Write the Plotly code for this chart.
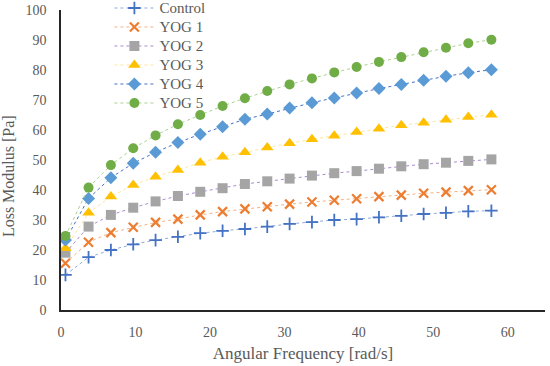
import plotly.graph_objects as go

freq = [0.6, 3.7, 6.7, 9.7, 12.7, 15.7, 18.7, 21.7, 24.7, 27.7,
        30.7, 33.7, 36.7, 39.7, 42.7, 45.7, 48.7, 51.7, 54.7, 57.8]

control = [11.7, 17.6, 20.0, 21.9, 23.3, 24.4, 25.6, 26.4, 27.0, 27.8,
           28.7, 29.3, 30.0, 30.3, 30.9, 31.4, 32.0, 32.4, 32.9, 33.1]
yog1 = [15.6, 22.6, 25.8, 27.6, 29.2, 30.3, 31.7, 32.8, 33.7, 34.4,
        35.3, 36.0, 36.6, 37.1, 37.8, 38.3, 38.9, 39.3, 39.8, 40.1]
yog2 = [19.1, 27.8, 31.7, 34.1, 36.2, 38.0, 39.4, 40.6, 42.0, 42.9,
        43.8, 44.8, 45.6, 46.3, 47.1, 47.9, 48.6, 49.1, 49.7, 50.2]
yog3 = [20.6, 32.4, 37.8, 41.7, 44.4, 46.7, 49.1, 51.1, 52.6, 54.2,
        55.6, 56.9, 58.1, 59.3, 60.4, 61.6, 62.4, 63.4, 64.3, 65.1]
yog4 = [23.3, 37.2, 44.1, 48.9, 52.6, 55.8, 58.6, 61.1, 63.6, 65.3,
        67.3, 69.1, 70.7, 72.3, 73.8, 75.2, 76.6, 77.9, 79.1, 80.1]
yog5 = [24.7, 40.8, 48.3, 53.9, 58.2, 61.9, 65.0, 68.0, 70.6, 73.0,
        75.2, 77.2, 79.2, 81.0, 82.7, 84.3, 85.9, 87.4, 88.9, 90.1]

series_names = ["Control", "YOG 1", "YOG 2", "YOG 3", "YOG 4", "YOG 5"]
x_ticks = [0, 10, 20, 30, 40, 50, 60]
y_ticks = [0, 10, 20, 30, 40, 50, 60, 70, 80, 90, 100]

series_values = [control, yog1, yog2, yog3, yog4, yog5]
styles = [
    ("#8FAADC", dict(symbol="cross-thin", size=9, color="#4472C4", line=dict(width=1.8, color="#4472C4"))),
    ("#F4B183", dict(symbol="x-thin", size=9, color="#ED7D31", line=dict(width=2.2, color="#ED7D31"))),
    ("#A98BD3", dict(symbol="square", size=10, color="#A5A5A5", line=dict(width=0))),
    ("#FFE699", dict(symbol="triangle-up", size=11, color="#FFC000", line=dict(width=0))),
    ("#4472C4", dict(symbol="diamond", size=10, color="#5B9BD5", line=dict(width=0))),
    ("#A9D18E", dict(symbol="circle", size=10, color="#70AD47", line=dict(width=0))),
]

fig = go.Figure()
for name, vals, (lc, mk) in zip(series_names, series_values, styles):
    fig.add_trace(go.Scatter(x=freq, y=vals,
                             name='<span style="font-size:15px">' + name + '</span>',
                             mode="lines+markers",
                             line=dict(color=lc, width=1, dash="dot"), marker=mk))

font_family = "Liberation Serif, serif"
fig.update_layout(
    width=550, height=366,
    margin=dict(l=61, r=5, t=10, b=56, autoexpand=False),
    paper_bgcolor="white", plot_bgcolor="white",
    font=dict(family=font_family, color="#595959", size=14),
    showlegend=True,
    legend=dict(x=0.1, y=1.055, xanchor="left", yanchor="top",
                bgcolor="rgba(0,0,0,0)", font=dict(size=12, color="#595959"),
                tracegroupgap=0, itemwidth=40),
    xaxis=dict(range=[0, 65], tickvals=x_ticks, showgrid=False, zeroline=False,
               showline=True, linecolor="#262626", linewidth=1.5, ticks="",
               automargin=False, ticklabelstandoff=8,
               tickfont=dict(size=14, color="#595959"),
               title=dict(text="Angular Frequency [rad/s]", font=dict(size=17, color="#595959"), standoff=9)),
    yaxis=dict(range=[0, 100], tickvals=y_ticks, showgrid=False, zeroline=False,
               showline=True, linecolor="#262626", linewidth=1.5, ticks="",
               automargin=False, ticklabelstandoff=10,
               tickfont=dict(size=14, color="#595959")),
    annotations=[dict(text="Loss Modulus [Pa]", textangle=-90, showarrow=False,
                      xref="paper", yref="paper", x=-0.107, y=0.447,
                      xanchor="center", yanchor="middle",
                      font=dict(size=16, color="#595959"))],
)

fig.write_html("out.html", config={"displayModeBar": False},
               post_script="document.body.style.margin='0';document.body.style.padding='0';")
